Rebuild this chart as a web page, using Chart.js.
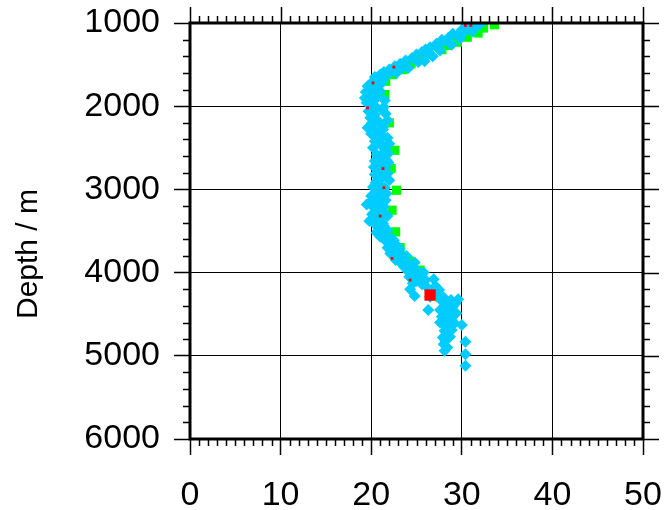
<!DOCTYPE html>
<html>
<head>
<meta charset="utf-8">
<script src="https://cdn.jsdelivr.net/npm/chart.js@4/dist/chart.umd.min.js"></script>
<style>
  html, body { margin: 0; padding: 0; background: #fff; }
  #wrap { width: 668px; height: 510px; }
</style>
</head>
<body>
<div id="wrap"><canvas id="chart" width="668" height="510"></canvas></div>
<script>
// Axis settings
const X_TICKS = [0, 10, 20, 30, 40, 50];
const Y_TICKS = [1000, 2000, 3000, 4000, 5000, 6000];
const X_MINOR = 1;
const Y_MINOR = 200;
const Y_TITLE = 'Depth / m';

// Cyan diamonds: value (x) and depth (y)
const cyanX = [32.0, 30.5, 31.5, 30.0, 30.8, 30.2, 29.0, 29.5, 28.5, 27.8, 28.0, 27.2, 28.6, 26.5, 26.0, 27.4, 25.6, 25.0, 26.3, 24.5,
  23.8, 24.9, 23.2, 22.6, 23.6, 22.0, 21.4, 22.5, 21.0, 20.4, 21.6, 20.8, 20.0, 21.2, 19.6, 20.9, 20.3, 19.4, 21.0, 20.0,
  19.3, 20.7, 20.2, 21.5, 19.8, 20.6, 21.4, 19.7, 20.4, 21.6, 19.9, 20.8, 21.8, 20.2, 19.6, 21.3, 20.5, 21.1, 20.0, 21.8,
  20.4, 21.0, 22.0, 20.2, 21.5, 20.6, 21.9, 21.2, 20.4, 21.7, 20.9, 21.5, 20.3, 21.0, 20.4, 21.8, 21.2, 20.6, 22.0, 20.9,
  21.5, 20.2, 21.0, 20.5, 21.7, 21.2, 20.0, 21.6, 19.5, 20.8, 20.3, 21.4, 20.9, 20.1, 21.5, 21.0, 19.8, 20.6, 20.4, 21.3,
  21.0, 20.7, 21.8, 21.3, 21.9, 21.0, 21.6, 22.5, 22.2, 21.8, 23.0, 22.6, 23.3, 22.1, 23.0, 23.8, 22.7, 23.4, 24.2, 23.6,
  24.0, 25.0, 24.6, 25.3, 24.2, 25.0, 26.0, 25.6, 24.6, 26.2, 26.8, 27.5, 27.3, 28.0, 26.5, 27.8, 28.8, 28.3, 29.3, 28.0,
  29.0, 28.6, 27.6, 28.2, 29.4, 28.8, 27.8, 28.3, 28.0, 29.2, 30.0, 28.5, 28.1, 28.9, 28.4, 27.9, 28.7, 28.2, 30.4, 28.0,
  28.4, 28.1, 30.4, 30.4, 24.3, 24.8, 26.3,
  31.2, 29.8, 28.9, 27.6, 26.8, 25.9, 25.2, 24.1, 23.3, 22.8, 21.9, 21.1, 20.5, 19.9, 20.6, 19.5, 21.2, 20.1, 21.3, 20.9,
  21.4, 20.7, 21.9, 20.8, 21.6, 20.5, 21.3, 20.0, 21.2, 20.7, 21.8, 20.9, 21.4, 20.6, 21.9, 22.4, 23.1, 23.9, 24.8, 25.8,
  26.9, 27.1, 29.6, 28.6, 28.5, 27.6, 28.8, 28.3];
const cyanDepth = [1020, 1040, 1050, 1080, 1080, 1110, 1130, 1150, 1180, 1200, 1220, 1250, 1240, 1290, 1320, 1310, 1350, 1380, 1370, 1420,
  1450, 1440, 1490, 1520, 1510, 1560, 1590, 1580, 1620, 1650, 1640, 1690, 1720, 1710, 1760, 1750, 1800, 1830, 1820, 1870,
  1900, 1890, 1940, 1930, 1980, 2020, 2010, 2060, 2100, 2090, 2140, 2180, 2170, 2220, 2260, 2250, 2300, 2340, 2330, 2380,
  2420, 2460, 2450, 2500, 2540, 2580, 2570, 2620, 2660, 2650, 2700, 2740, 2730, 2780, 2820, 2810, 2860, 2900, 2890, 2940,
  2980, 2970, 3020, 3060, 3050, 3100, 3140, 3130, 3180, 3170, 3220, 3210, 3260, 3300, 3290, 3340, 3380, 3370, 3420, 3410,
  3460, 3500, 3490, 3540, 3580, 3570, 3620, 3610, 3660, 3700, 3690, 3740, 3780, 3770, 3820, 3860, 3850, 3900, 3940, 3930,
  3980, 3970, 4020, 4060, 4050, 4100, 4090, 4140, 4130, 4180, 4220, 4210, 4260, 4300, 4290, 4340, 4330, 4380, 4370, 4420,
  4410, 4460, 4450, 4500, 4490, 4540, 4530, 4580, 4620, 4610, 4630, 4660, 4700, 4690, 4740, 4780, 4770, 4820, 4830, 4860,
  4900, 4940, 4980, 5120, 4200, 4280, 4450,
  1100, 1190, 1260, 1330, 1400, 1460, 1470, 1540, 1550, 1600, 1610, 1670, 1680, 1780, 1850, 1960, 2040, 2200, 2280, 2400,
  2480, 2600, 2680, 2760, 2840, 2920, 3000, 3080, 3160, 3240, 3320, 3400, 3440, 3520, 3560, 3640, 3720, 3800, 3880, 4000,
  4080, 4160, 4320, 4400, 4560, 4600, 4650, 4720];

// Green squares (mostly hidden under the cyan)
const greenX = [33.6, 32.4, 31.8, 30.6, 29.5, 28.4, 27.8, 26.4, 25.6, 24.4, 23.5, 22.4, 21.6, 21.5, 22.0, 22.6, 22.2, 22.8, 22.3, 22.7,
  23.2, 24.2, 25.4, 27.6, 28.9];
const greenDepth = [1020, 1060, 1120, 1170, 1230, 1270, 1320, 1380, 1430, 1490, 1560, 1620, 1700, 1860, 2200, 2530, 2750, 3010, 3250, 3510,
  3700, 3860, 3970, 4300, 4570];

// Red squares
const redX = [30.4, 31.0, 22.5, 20.2, 19.6, 21.3, 21.4, 21.0, 22.3, 24.3, 26.5];
const redDepth = [1030, 1030, 1530, 1720, 2020, 2750, 2980, 3320, 3830, 4090, 4270];

const toPoints = (xs, ys) => xs.map((v, i) => ({ x: v, y: ys[i] }));

const FONT = "'Liberation Sans', Arial, sans-serif";

// Frame with minor ticks on all four sides, majors on top and right, plus y title
const frameTicks = {
  id: 'frameTicks',
  afterDraw(chart) {
    const { ctx, chartArea: a, scales: { x, y } } = chart;
    ctx.save();
    ctx.strokeStyle = '#000';
    ctx.lineWidth = 1.5;
    ctx.beginPath();
    for (let v = x.min; v <= x.max; v += X_MINOR) {
      const px = Math.round(x.getPixelForValue(v)) + 0.5;
      const major = X_TICKS.includes(v);
      const len = major ? 16 : 7;
      ctx.moveTo(px, a.top); ctx.lineTo(px, a.top - len);
      if (!major) { ctx.moveTo(px, a.bottom); ctx.lineTo(px, a.bottom + len); }
    }
    for (let v = y.min; v <= y.max; v += Y_MINOR) {
      const py = Math.round(y.getPixelForValue(v)) + 0.5;
      const major = Y_TICKS.includes(v);
      const len = major ? 16 : 7;
      ctx.moveTo(a.right, py); ctx.lineTo(a.right + len, py);
      if (!major) { ctx.moveTo(a.left, py); ctx.lineTo(a.left - len, py); }
    }
    ctx.stroke();
    ctx.lineWidth = 3;
    ctx.strokeRect(a.left, a.top, a.right - a.left, a.bottom - a.top);

    // y title sits a bit below the middle of the axis, like the original
    ctx.translate(29, 254);
    ctx.rotate(-Math.PI / 2);
    ctx.fillStyle = '#000';
    ctx.font = '30px ' + FONT;
    ctx.textAlign = 'center';
    ctx.textBaseline = 'middle';
    ctx.fillText(Y_TITLE, 0, 0);
    ctx.restore();
  }
};

// Chart.js paints the first dataset last, so red is on top and green at the bottom
new Chart(document.getElementById('chart'), {
  type: 'scatter',
  data: {
    datasets: [
      {
        label: 'red',
        data: toPoints(redX, redDepth),
        pointStyle: 'rect',
        pointRadius: redX.map((v, i) => i === redX.length - 1 ? 8 : 2),
        backgroundColor: '#ff0000',
        borderWidth: 0
      },
      {
        label: 'cyan',
        data: toPoints(cyanX, cyanDepth),
        pointStyle: 'rectRot',
        pointRadius: 6,
        backgroundColor: '#00ccff',
        borderWidth: 0
      },
      {
        label: 'green',
        data: toPoints(greenX, greenDepth),
        pointStyle: 'rect',
        pointRadius: 6.5,
        backgroundColor: '#00ff00',
        borderWidth: 0
      }
    ]
  },
  options: {
    responsive: false,
    animation: false,
    layout: { padding: { top: 23, right: 25, left: 0, bottom: 0 } },
    plugins: {
      legend: { display: false },
      tooltip: { enabled: false }
    },
    scales: {
      x: {
        type: 'linear',
        min: 0,
        max: 50,
        afterBuildTicks: s => { s.ticks = X_TICKS.map(v => ({ value: v })); },
        afterFit: s => { s.height = 71; s.paddingLeft = 0; s.paddingRight = 0; },
        ticks: { color: '#000', font: { family: FONT, size: 34 }, padding: 20, maxRotation: 0 },
        grid: { color: '#000', lineWidth: 1, tickLength: 16, tickColor: '#000', tickWidth: 1.5 },
        border: { display: false }
      },
      y: {
        type: 'linear',
        reverse: true,
        min: 1000,
        max: 6000,
        afterBuildTicks: s => { s.ticks = Y_TICKS.map(v => ({ value: v })); },
        afterFit: s => { s.width = 190; s.paddingTop = 0; s.paddingBottom = 0; },
        ticks: { color: '#000', font: { family: FONT, size: 34 }, padding: 14, callback: v => String(v) },
        grid: { color: '#000', lineWidth: 1, tickLength: 16, tickColor: '#000', tickWidth: 1.5 },
        border: { display: false }
      }
    }
  },
  plugins: [frameTicks]
});
</script>
</body>
</html>
